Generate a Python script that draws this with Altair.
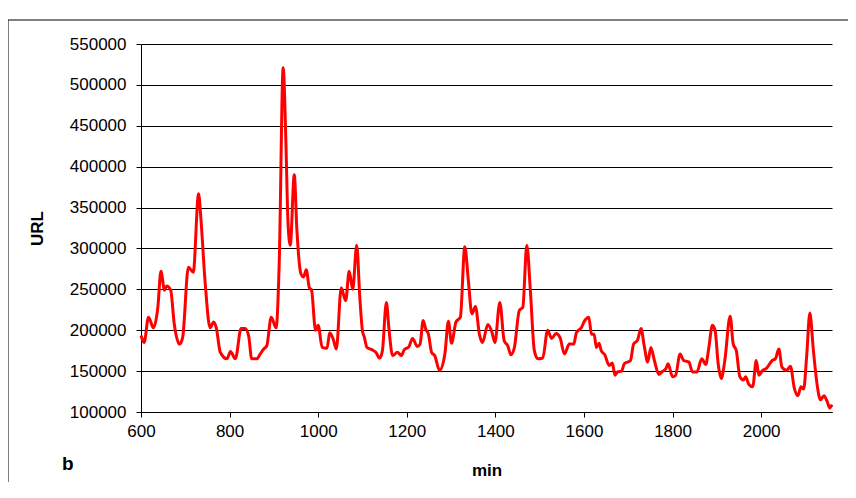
import altair as alt
import pandas as pd

minutes = [600, 607, 617, 628, 638, 645, 653, 658, 667, 675, 687, 694, 707, 718, 730, 735, 745, 756, 764, 770,
           779, 794, 802, 813, 826, 835, 843, 850, 862, 867, 877, 884, 894, 905, 912, 921, 927, 932, 937, 946,
           952, 961, 967, 973, 980, 985, 994, 1000, 1009, 1020, 1026, 1034, 1041, 1052, 1062, 1070, 1078, 1087,
           1094, 1100, 1104, 1110, 1122, 1130, 1139, 1145, 1154, 1160, 1168, 1179, 1188, 1194, 1205, 1213, 1224,
           1230, 1237, 1243, 1249, 1256, 1263, 1274, 1286, 1294, 1301, 1311, 1321, 1331, 1339, 1347, 1355, 1364,
           1371, 1383, 1392, 1399, 1410, 1420, 1428, 1435, 1443, 1454, 1462, 1471, 1479, 1488, 1496, 1507, 1518,
           1527, 1537, 1546, 1556, 1567, 1577, 1583, 1594, 1602, 1611, 1617, 1623, 1628, 1634, 1639, 1647, 1657,
           1664, 1670, 1676, 1685, 1691, 1705, 1712, 1721, 1729, 1736, 1744, 1751, 1759, 1769, 1778, 1785, 1790,
           1800, 1807, 1817, 1825, 1837, 1845, 1855, 1866, 1875, 1882, 1890, 1896, 1903, 1910, 1918, 1930, 1937,
           1944, 1952, 1960, 1965, 1972, 1981, 1989, 1995, 2002, 2013, 2025, 2032, 2040, 2047, 2058, 2066, 2075,
           2083, 2090, 2096, 2103, 2110, 2118, 2127, 2134, 2142, 2149, 2155, 2160]

url = [193500, 185000, 216000, 203000, 228000, 272000, 249000, 254000, 249000, 208000, 183000, 191000, 277000,
       271000, 367000, 338000, 257000, 203000, 210000, 203000, 173000, 165000, 174000, 165000, 202000, 202000,
       193000, 165000, 165000, 169000, 177000, 181000, 216000, 203000, 281000, 521000, 432000, 330000, 304000,
       390000, 322000, 269000, 265000, 274000, 252000, 249000, 200000, 206000, 179000, 178000, 197000, 189000,
       177000, 252000, 236000, 272000, 250000, 304000, 240000, 199000, 192000, 179000, 176000, 173000, 166000,
       175000, 234000, 200000, 169000, 173000, 169000, 176000, 180000, 190000, 180000, 183000, 212000, 201000,
       195000, 173000, 169000, 151000, 171000, 211000, 184000, 210000, 216000, 302000, 261000, 220000, 229000,
       195000, 185000, 207000, 198000, 185000, 234000, 187000, 181000, 170000, 179000, 224000, 228000, 304000,
       249000, 175000, 165000, 166000, 200000, 190000, 196000, 191000, 171000, 183000, 183000, 197000, 203000,
       212000, 216000, 195000, 195000, 179000, 184000, 175000, 170000, 157000, 160000, 145000, 149000, 150000,
       159000, 163000, 183000, 188000, 202000, 181000, 161000, 179000, 163000, 146000, 150000, 153000, 159000,
       143000, 145000, 171000, 163000, 161000, 149000, 149000, 165000, 158000, 179000, 206000, 200000, 159000,
       141000, 163000, 217000, 183000, 175000, 143000, 139000, 143000, 134000, 131000, 163000, 145000, 150000,
       154000, 163000, 165000, 177000, 155000, 151000, 156000, 129000, 120000, 131000, 128000, 170000, 221000,
       175000, 131000, 115000, 120000, 113000, 105000, 109000]

x_ticks = [600, 800, 1000, 1200, 1400, 1600, 1800, 2000]
y_ticks = [100000, 150000, 200000, 250000, 300000, 350000, 400000, 450000, 500000, 550000]

df = pd.DataFrame({"min": minutes, "URL": url})

FONT = "Liberation Sans"

line = alt.Chart(df).mark_line(color="#FF0000", strokeWidth=3, interpolate="monotone").encode(
    x=alt.X("min:Q",
            scale=alt.Scale(domain=[600, 2160], nice=False, zero=False),
            axis=alt.Axis(values=x_ticks, title="min", grid=False, tickSize=5, labelPadding=6,
                          labelFlush=False, labelOverlap=False,
                          titleY=58, titleBaseline="middle", format="d")),
    y=alt.Y("URL:Q",
            scale=alt.Scale(domain=[100000, 550000], nice=False, zero=False),
            axis=alt.Axis(values=y_ticks, title="URL", grid=True, tickSize=5, labelPadding=10,
                          labelFlush=False, labelOverlap=False,
                          format="d", titleAngle=270, titleX=-104, titleY=184,
                          titleAlign="center", titleBaseline="middle")),
)

one = alt.Data(values=[{"k": 1}])

frame_left = alt.Chart(one).mark_rule(color="black", strokeWidth=1).encode(
    x=alt.value(-133), y=alt.value(-24), y2=alt.value(520))
frame_top = alt.Chart(one).mark_rule(color="black", strokeWidth=1).encode(
    x=alt.value(-133), x2=alt.value(900), y=alt.value(-24))

label_b = alt.Chart(one).mark_text(text="b", font=FONT, fontSize=19, fontWeight="bold",
                                   align="left", baseline="alphabetic", color="black").encode(
    x=alt.value(-79), y=alt.value(426))

chart = alt.layer(line, frame_left, frame_top, label_b).properties(
    width=691, height=368,
    autosize=alt.AutoSizeParams(type="none"),
    padding={"left": 133, "top": 36, "right": 16, "bottom": 70},
).configure_view(stroke=None).configure_axis(
    domainColor="black", tickColor="black", gridColor="black", gridWidth=1,
    labelColor="black", labelFont=FONT, labelFontSize=17,
    titleColor="black", titleFont=FONT, titleFontSize=17, titleFontWeight="bold",
)

chart.save("out.html", embed_options={"renderer": "svg", "actions": False})
